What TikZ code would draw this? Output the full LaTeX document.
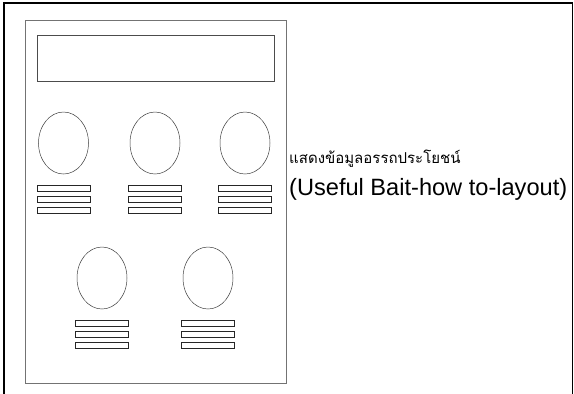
\documentclass[tikz,border=0pt]{standalone}
\usepackage{fontspec}
\setmainfont{Liberation Sans}
\newfontfamily\thaifont[Script=Thai]{Loma}
\begin{document}
\begin{tikzpicture}[x=1pt,y=-1pt,line join=miter,
	panel/.style={draw=black!55,line width=0.8pt},
	ell/.style={draw=black!75,line width=0.5pt},
	bar/.style={draw=black!85,line width=0.6pt}]
	\useasboundingbox (0,0) rectangle (574,394);
	% Khung ngoài (không có cạnh dưới)
	\draw[line width=2pt] (4,394) -- (4,3) -- (572.5,3);
	\draw[line width=1pt] (572.5,3) -- (572.5,394);
	% Tấm bảng và ô tiêu đề
	\draw[panel] (25,20) rectangle (286,383);
	\draw[panel,draw=black!70] (37,35) rectangle (274,81);
	% Hình tròn và các thanh bên dưới
	\foreach \cx/\cy in {63.5/143,155/143,245/143,102/278,208/278}{
		\draw[ell] (\cx,\cy) ellipse (25pt and 31pt);
		\foreach \k in {0,1,2}
			\draw[bar] (\cx-26.5,\cy+42+11*\k) rectangle (\cx+26.5,\cy+48+11*\k);
	}
	% Chú thích
	\node[anchor=base west,inner sep=0pt,font=\thaifont\fontsize{15}{18}\selectfont] (thai) at (289,163) {แสดงข้อมูลอรรถประโยชน์};
	\node[anchor=base west,inner sep=0pt,font=\fontsize{23.6}{28}\selectfont] (eng) at (289,195) {(Useful Bait-how to-layout)};
\end{tikzpicture}
\end{document}
